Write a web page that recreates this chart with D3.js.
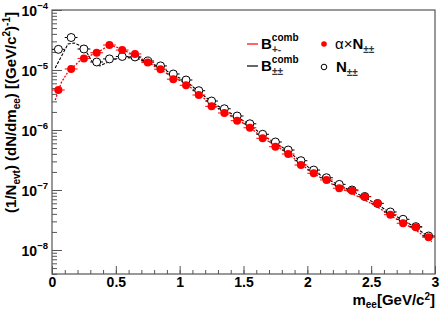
<!DOCTYPE html>
<html>
<head>
<meta charset="utf-8">
<script src="https://cdn.jsdelivr.net/npm/d3@7"></script>
<style>
  body { margin: 0; background: #fff; }
  text { font-family: "Liberation Sans", Arial, sans-serif; font-weight: bold; }
</style>
</head>
<body>
<div id="chart"></div>
<script>
// bin centres of the marker points (0.1 GeV bins)
const massBins = [0.05,0.15,0.25,0.35,0.45,0.55,0.65,0.75,0.85,0.95,1.05,1.15,1.25,1.35,1.45,1.55,1.65,1.75,1.85,1.95,2.05,2.15,2.25,2.35,2.45,2.55,2.65,2.75,2.85,2.95];

// alpha x N(+-+-), filled red
const alphaN = [4.64e-6,1.04e-5,1.56e-5,1.94e-5,2.61e-5,2.15e-5,1.85e-5,1.33e-5,1.03e-5,7.03e-6,5.56e-6,3.83e-6,2.48e-6,1.92e-6,1.43e-6,1.09e-6,7.27e-7,5.27e-7,3.98e-7,2.61e-7,1.90e-7,1.47e-7,1.07e-7,9.73e-8,7.73e-8,6.00e-8,3.88e-8,2.79e-8,2.39e-8,1.63e-8];

// N(+-+-), open circles
const nLike = [2.21e-5,3.48e-5,2.24e-5,1.36e-5,1.53e-5,1.68e-5,1.65e-5,1.41e-5,1.17e-5,8.58e-6,6.81e-6,4.52e-6,3.04e-6,2.26e-6,1.71e-6,1.27e-6,8.48e-7,6.31e-7,4.64e-7,3.08e-7,2.15e-7,1.60e-7,1.24e-7,1.0e-7,7.8e-8,5.96e-8,4.30e-8,3.25e-8,2.45e-8,1.71e-8];

// finer bins (0.05 GeV) for the combinatorial background curves
const lineBins = [0.025,0.075,0.125,0.175,0.225,0.275,0.325,0.375,0.425,0.475,0.525,0.575,0.625,0.675,0.725,0.775,0.825,0.875,0.925,0.975,1.025,1.075,1.125,1.175,1.225,1.275,1.325,1.375,1.425,1.475,1.525,1.575,1.625,1.675,1.725,1.775,1.825,1.875,1.925,1.975,2.025,2.075,2.125,2.175,2.225,2.275,2.325,2.375,2.425,2.475,2.525,2.575,2.625,2.675,2.725,2.775,2.825,2.875,2.925,2.975];

// B comb +- (red)
const bCombPM = [3.16e-6,6.31e-6,9.26e-6,1.17e-5,1.47e-5,1.65e-5,1.85e-5,2.07e-5,2.42e-5,2.51e-5,2.33e-5,2.07e-5,1.85e-5,1.65e-5,1.44e-5,1.26e-5,1.07e-5,9.44e-6,8.10e-6,7.08e-6,6.31e-6,5.37e-6,4.39e-6,3.58e-6,2.94e-6,2.47e-6,2.12e-6,1.84e-6,1.60e-6,1.39e-6,1.20e-6,1.00e-6,8.19e-7,6.89e-7,5.93e-7,5.11e-7,4.38e-7,3.66e-7,2.99e-7,2.46e-7,2.06e-7,1.75e-7,1.51e-7,1.32e-7,1.16e-7,1.03e-7,9.23e-8,8.22e-8,7.24e-8,6.36e-8,5.56e-8,4.81e-8,4.07e-8,3.51e-8,3.04e-8,2.64e-8,2.30e-8,1.96e-8,1.63e-8,1.37e-8];

// B comb +-+- (black)
const bCombLS = [1.08e-5,1.71e-5,2.71e-5,2.82e-5,2.51e-5,1.92e-5,1.26e-5,1.17e-5,1.31e-5,1.47e-5,1.58e-5,1.62e-5,1.58e-5,1.53e-5,1.41e-5,1.29e-5,1.17e-5,1.04e-5,8.91e-6,7.79e-6,6.95e-6,5.91e-6,4.82e-6,3.94e-6,3.24e-6,2.71e-6,2.34e-6,2.03e-6,1.77e-6,1.53e-6,1.32e-6,1.10e-6,9.02e-7,7.59e-7,6.53e-7,5.62e-7,4.82e-7,4.03e-7,3.29e-7,2.71e-7,2.26e-7,1.93e-7,1.66e-7,1.45e-7,1.28e-7,1.14e-7,1.02e-7,9.05e-8,7.98e-8,7.00e-8,6.12e-8,5.29e-8,4.49e-8,3.86e-8,3.35e-8,2.91e-8,2.53e-8,2.15e-8,1.80e-8,1.51e-8];

const xTicks = [0, 0.5, 1, 1.5, 2, 2.5, 3];
const xTickLabels = ["0", "0.5", "1", "1.5", "2", "2.5", "3"];
const yDecades = [-8, -7, -6, -5, -4];

const W = 443, H = 312;
const mLeft = 52, mRight = 435, mTop = 10, mBottom = 274;
const axisColor = "#555";
const yMin = 3.98e-9, yMax = 1e-4;

const svg = d3.select("#chart").append("svg")
  .attr("width", W).attr("height", H);

const x = d3.scaleLinear().domain([0, 3]).range([mLeft, mRight]);
const y = d3.scaleLog().domain([yMin, yMax]).range([mBottom, mTop]);

// frame
svg.append("rect")
  .attr("x", mLeft).attr("y", mTop)
  .attr("width", mRight - mLeft).attr("height", mBottom - mTop)
  .attr("fill", "none").attr("stroke", axisColor).attr("stroke-width", 1.2);

// x minor ticks
const xMinor = d3.range(0, 31).map(i => i / 10);
svg.append("g")
  .attr("transform", "translate(0," + mBottom + ")")
  .call(d3.axisBottom(x).tickValues(xMinor).tickSize(-4).tickFormat(""))
  .call(g => g.select(".domain").remove())
  .call(g => g.selectAll("line").attr("stroke", axisColor));

// x major ticks + labels
svg.append("g")
  .attr("transform", "translate(0," + mBottom + ")")
  .call(d3.axisBottom(x).tickValues(xTicks).tickSize(-8)
    .tickFormat((d, i) => xTickLabels[i]))
  .call(g => g.select(".domain").remove())
  .call(g => g.selectAll("line").attr("stroke", axisColor))
  .call(g => g.selectAll("text")
    .attr("y", 13)
    .attr("dy", null)
    .attr("fill", "#000")
    .style("font-size", "14px")
    .style("font-family", "Liberation Sans, Arial, sans-serif")
    .style("font-weight", "bold"));

// y minor ticks
const yMinor = [];
[-9, -8, -7, -6, -5].forEach(p => {
  for (let m = 2; m < 10; m++) {
    const v = m * Math.pow(10, p);
    if (v >= yMin && v <= yMax) yMinor.push(v);
  }
});
svg.append("g")
  .attr("transform", "translate(" + mLeft + ",0)")
  .call(d3.axisLeft(y).tickValues(yMinor).tickSize(-5).tickFormat(""))
  .call(g => g.select(".domain").remove())
  .call(g => g.selectAll("line").attr("stroke", axisColor));

// y major ticks
svg.append("g")
  .attr("transform", "translate(" + mLeft + ",0)")
  .call(d3.axisLeft(y).tickValues(yDecades.map(p => Math.pow(10, p))).tickSize(-10).tickFormat(""))
  .call(g => g.select(".domain").remove())
  .call(g => g.selectAll("line").attr("stroke", axisColor));

// y tick labels as 10^n
yDecades.forEach(p => {
  const t = svg.append("text")
    .attr("x", 48).attr("y", y(Math.pow(10, p)) + 6)
    .attr("text-anchor", "end")
    .style("font-size", "14px");
  t.append("tspan").text("10");
  t.append("tspan").attr("dy", -7).style("font-size", "9.5px").text("\u2212" + Math.abs(p));
});

// combinatorial background curves
const bgLine = d3.line()
  .x((d, i) => x(lineBins[i]))
  .y(d => y(d));

svg.append("path")
  .datum(bCombPM)
  .attr("d", bgLine)
  .attr("fill", "none")
  .attr("stroke", "#ff0000")
  .attr("stroke-width", 1.3)
  .attr("stroke-dasharray", "2,1.5");

svg.append("path")
  .datum(bCombLS)
  .attr("d", bgLine)
  .attr("fill", "none")
  .attr("stroke", "#000")
  .attr("stroke-width", 1.1)
  .attr("stroke-dasharray", "3,1.5");

// open circles N(+-+-) with bin-width bars
svg.append("g").selectAll("line")
  .data(nLike).enter().append("line")
  .attr("x1", (d, i) => x(massBins[i] - 0.05))
  .attr("x2", (d, i) => x(massBins[i] + 0.05))
  .attr("y1", d => y(d)).attr("y2", d => y(d))
  .attr("stroke", "#000").attr("stroke-width", 1);

svg.append("g").selectAll("circle")
  .data(nLike).enter().append("circle")
  .attr("cx", (d, i) => x(massBins[i]))
  .attr("cy", d => y(d))
  .attr("r", 4)
  .attr("fill", "#fff")
  .attr("stroke", "#000")
  .attr("stroke-width", 1);

// alpha x N filled red
svg.append("g").selectAll("line")
  .data(alphaN).enter().append("line")
  .attr("x1", (d, i) => x(massBins[i] - 0.05))
  .attr("x2", (d, i) => x(massBins[i] + 0.05))
  .attr("y1", d => y(d)).attr("y2", d => y(d))
  .attr("stroke", "#ff0000").attr("stroke-width", 1);

svg.append("g").selectAll("circle")
  .data(alphaN).enter().append("circle")
  .attr("cx", (d, i) => x(massBins[i]))
  .attr("cy", d => y(d))
  .attr("r", 4)
  .attr("fill", "#ff0000");

// legend
const leg = svg.append("g");
leg.append("line").attr("x1", 247).attr("x2", 258).attr("y1", 44).attr("y2", 44)
  .attr("stroke", "#ff0000").attr("stroke-width", 1.2);
leg.append("line").attr("x1", 247).attr("x2", 258).attr("y1", 66).attr("y2", 66)
  .attr("stroke", "#000").attr("stroke-width", 1.2);

function bLabel(yy, sub) {
  const t = leg.append("text").attr("x", 261).attr("y", yy).style("font-size", "15px");
  t.append("tspan").text("B");
  t.append("tspan").attr("dy", -8).style("font-size", "10px").text("comb");
  leg.append("text").attr("x", 272).attr("y", yy + 4)
    .style("font-size", "10px").attr("fill", "#333").text(sub);
}
bLabel(49, "+-");
bLabel(71, "\u00b1\u00b1");

leg.append("circle").attr("cx", 324).attr("cy", 44).attr("r", 2.8).attr("fill", "#ff0000");
leg.append("circle").attr("cx", 324).attr("cy", 67).attr("r", 2.8)
  .attr("fill", "#fff").attr("stroke", "#000").attr("stroke-width", 1);

const l1 = leg.append("text").attr("x", 335).attr("y", 49).style("font-size", "15px");
l1.append("tspan").style("font-weight", "normal").text("\u03b1\u00d7");
l1.append("tspan").text("N");
l1.append("tspan").attr("dy", 4).style("font-size", "10px").attr("fill", "#333").text("\u00b1\u00b1");

const l2 = leg.append("text").attr("x", 336).attr("y", 72).style("font-size", "15px");
l2.append("tspan").text("N");
l2.append("tspan").attr("dy", 4).style("font-size", "10px").attr("fill", "#333").text("\u00b1\u00b1");

// axis titles
const xt = svg.append("text")
  .attr("x", 435).attr("y", 305)
  .attr("text-anchor", "end")
  .style("font-size", "15px");
xt.append("tspan").text("m");
xt.append("tspan").attr("dy", 3).style("font-size", "10px").text("ee");
xt.append("tspan").attr("dy", -3).text("[GeV/c");
xt.append("tspan").attr("dy", -5).style("font-size", "10px").text("2");
xt.append("tspan").attr("dy", 5).text("]");

const yt = svg.append("text")
  .attr("transform", "translate(16,12) rotate(-90)")
  .attr("text-anchor", "end")
  .style("font-size", "15px");
yt.append("tspan").text("(1/N");
yt.append("tspan").attr("dy", 4).style("font-size", "10px").text("evt");
yt.append("tspan").attr("dy", -4).text(") (dN/dm");
yt.append("tspan").attr("dy", 4).style("font-size", "10px").text("ee");
yt.append("tspan").attr("dy", -4).text(") [(GeV/c");
yt.append("tspan").attr("dy", -6).style("font-size", "10px").text("2");
yt.append("tspan").attr("dy", 6).text(")");
yt.append("tspan").attr("dy", -6).style("font-size", "10px").text("-1");
yt.append("tspan").attr("dy", 6).text("]");
</script>
</body>
</html>
